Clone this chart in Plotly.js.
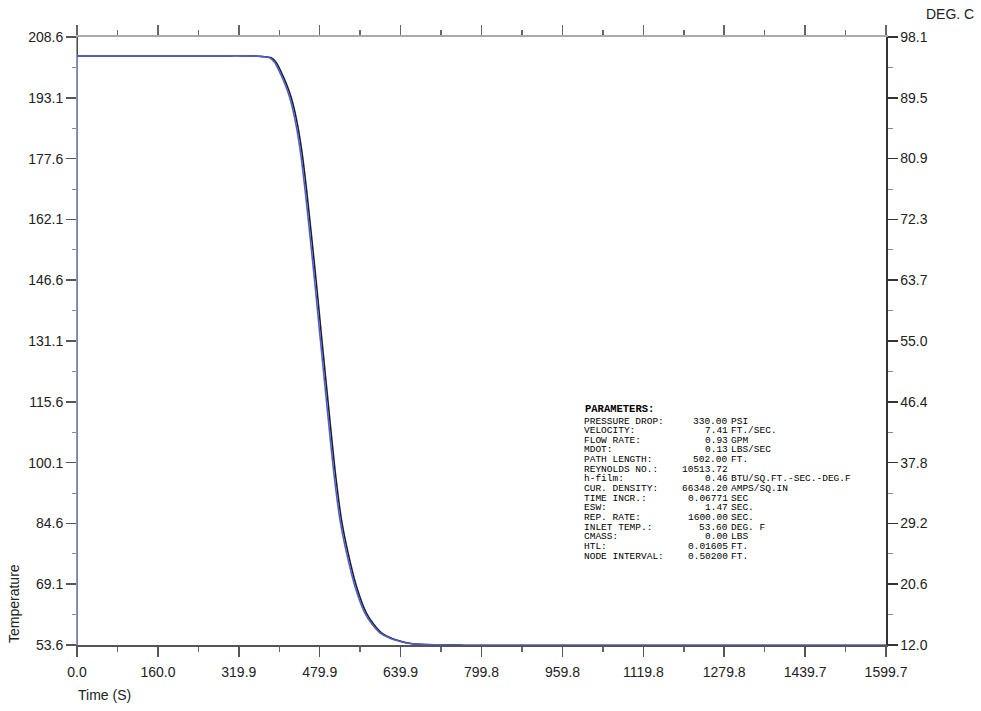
<!DOCTYPE html>
<html>
<head>
<meta charset="utf-8">
<script src="https://cdn.plot.ly/plotly-3.0.1.min.js"></script>
<style>html,body{margin:0;padding:0;background:#fff;}#chart{width:981px;height:711px;}</style>
</head>
<body>
<div id="chart"></div>
<script>
// ---- data ----
const timeStart = [0, 0];
const tempStartBlue = [53.6, 203.8];
const tempStartBlack = [208.6, 203.8];
const timeBlue = [0, 100, 200, 300, 330, 350, 365, 381, 391, 401, 411, 421, 431, 441, 451, 461, 471, 480, 487, 497, 507, 520, 533, 550, 569, 584, 599, 619, 639, 658, 678, 720, 760, 900, 1100, 1300, 1599.7];
const tempBlue = [203.8, 203.8, 203.8, 203.8, 203.8, 203.75, 203.6, 203.3, 202.1, 199.6, 196.7, 193.0, 187.6, 180.0, 169.6, 157.5, 145.0, 133.0, 123.9, 111.0, 98.4, 85.5, 77.1, 68.4, 61.8, 58.8, 56.7, 55.3, 54.5, 54.0, 53.8, 53.65, 53.6, 53.6, 53.6, 53.6, 53.6];
const timeBlack = [0, 100, 200, 300, 332, 352, 368, 384, 394, 404, 414, 424, 434, 444, 454, 464, 474, 483, 490, 500, 510, 523, 536, 553, 572, 587, 602, 622, 642, 661, 681, 722, 762];
const tempBlack = [203.8, 203.8, 203.8, 203.8, 203.8, 203.75, 203.6, 203.3, 202.1, 199.6, 196.7, 193.0, 187.6, 180.0, 169.6, 157.5, 145.0, 133.0, 123.9, 111.0, 98.4, 85.5, 77.1, 68.4, 61.8, 58.8, 56.7, 55.3, 54.5, 54.0, 53.8, 53.65, 53.6];

const xTickVals = [0, 159.97, 319.94, 479.91, 639.88, 799.85, 959.82, 1119.79, 1279.76, 1439.73, 1599.7];
const xTickText = ["0.0", "160.0", "319.9", "479.9", "639.9", "799.8", "959.8", "1119.8", "1279.8", "1439.7", "1599.7"];
const yTickVals = [53.6, 69.1, 84.6, 100.1, 115.6, 131.1, 146.6, 162.1, 177.6, 193.1, 208.6];
const yTickText = ["53.6", "69.1", "84.6", "100.1", "115.6", "131.1", "146.6", "162.1", "177.6", "193.1", "208.6"];
const cTickVals = [12.0, 20.61, 29.22, 37.83, 46.44, 55.06, 63.67, 72.28, 80.89, 89.5, 98.11];
const cTickText = ["12.0", "20.6", "29.2", "37.8", "46.4", "55.0", "63.7", "72.3", "80.9", "89.5", "98.1"];

const paramLabels = ["PRESSURE DROP:", "VELOCITY:", "FLOW RATE:", "MDOT:", "PATH LENGTH:", "REYNOLDS NO.:", "h-film:", "CUR. DENSITY:", "TIME INCR.:", "ESW:", "REP. RATE:", "INLET TEMP.:", "CMASS:", "HTL:", "NODE INTERVAL:"];
const paramValues = ["330.00", "7.41", "0.93", "0.13", "502.00", "10513.72", "0.46", "66348.20", "0.06771", "1.47", "1600.00", "53.60", "0.00", "0.01605", "0.50200"];
const paramUnits = ["PSI", "FT./SEC.", "GPM", "LBS/SEC", "FT.", "", "BTU/SQ.FT.-SEC.-DEG.F", "AMPS/SQ.IN", "SEC", "SEC.", "SEC.", "DEG. F", "LBS", "FT.", "FT."];

// ---- layout helpers (pixel -> paper) ----
const L = 77, R = 886, T = 37, B = 645;
const px = v => (v - L) / (R - L);
const py = v => (B - v) / (B - T);

const monoFont = {family: "Liberation Mono, DejaVu Sans Mono, monospace", size: 9.5, color: "#000"};
const sansFont = {family: "Liberation Sans, Arial, sans-serif", size: 14, color: "#222"};

const annotations = [];
annotations.push({xref: "paper", yref: "paper", x: px(583), y: py(409), xanchor: "left", yanchor: "middle",
  text: "<b>PARAMETERS:</b>", showarrow: false, font: {family: monoFont.family, size: 10.5, color: "#000"}});
for (let i = 0; i < paramLabels.length; i++) {
  const yy = py(421 + i * 9.65);
  annotations.push({xref: "paper", yref: "paper", x: px(583), y: yy, xanchor: "left", yanchor: "middle", text: paramLabels[i], showarrow: false, font: monoFont, borderpad: 0});
  annotations.push({xref: "paper", yref: "paper", x: px(729), y: yy, xanchor: "right", yanchor: "middle", text: paramValues[i], showarrow: false, font: monoFont, borderpad: 0});
  if (paramUnits[i]) annotations.push({xref: "paper", yref: "paper", x: px(730), y: yy, xanchor: "left", yanchor: "middle", text: paramUnits[i], showarrow: false, font: monoFont, borderpad: 0});
}
annotations.push({xref: "paper", yref: "paper", x: px(14), y: py(604), xanchor: "center", yanchor: "middle", textangle: -90, text: "Temperature", showarrow: false, font: sansFont});
annotations.push({xref: "paper", yref: "paper", x: px(76), y: py(695), xanchor: "left", yanchor: "middle", text: "Time (S)", showarrow: false, font: sansFont});
annotations.push({xref: "paper", yref: "paper", x: px(950), y: py(14), xanchor: "center", yanchor: "middle", text: "DEG. C", showarrow: false, font: sansFont});

const lineBlack = {color: "#1e1e2a", width: 1.6, shape: "spline", smoothing: 0.6};
const lineBlue = {color: "#4d5fcc", width: 1.6, shape: "spline", smoothing: 0.6};
const traces = [
  {x: timeStart, y: tempStartBlack, type: "scatter", mode: "lines", line: {color: "#1e1e2a", width: 1.6}, hoverinfo: "skip"},
  {x: timeBlack, y: tempBlack, type: "scatter", mode: "lines", line: lineBlack, hoverinfo: "skip"},
  {x: timeStart, y: tempStartBlue, type: "scatter", mode: "lines", line: {color: "#4d5fcc", width: 1.6}, hoverinfo: "skip"},
  {x: timeBlue, y: tempBlue, type: "scatter", mode: "lines", line: lineBlue, hoverinfo: "skip"},
  {x: [], y: [], type: "scatter", mode: "lines", hoverinfo: "skip", xaxis: "x2", yaxis: "y2", showlegend: false}
];

const layout = {
  width: 981, height: 711,
  margin: {l: L, r: 981 - R, t: T, b: 711 - B, pad: 0},
  paper_bgcolor: "#fff", plot_bgcolor: "#fff",
  showlegend: false,
  font: sansFont,
  xaxis: {
    range: [0, 1599.7], showgrid: false, zeroline: false,
    showline: true, linecolor: "#555", linewidth: 1.5,
    tickmode: "array", tickvals: xTickVals, ticktext: xTickText,
    ticks: "outside", ticklen: 10, tickcolor: "#555", tickwidth: 1.5,
    ticklabelstandoff: 4,
    minor: {ticks: "outside", ticklen: 5, tickcolor: "#666", tickwidth: 1.5, tick0: 0, dtick: 79.985},
    tickfont: sansFont
  },
  xaxis2: {
    overlaying: "x", side: "top", anchor: "y2", range: [0, 1599.7], showgrid: false, zeroline: false,
    showline: true, linecolor: "#aaa", linewidth: 2, showticklabels: false,
    tickmode: "array", tickvals: xTickVals,
    ticks: "outside", ticklen: 10, tickcolor: "#666", tickwidth: 1.5,
    minor: {ticks: "outside", ticklen: 5, tickcolor: "#666", tickwidth: 1.5, tick0: 0, dtick: 79.985}
  },
  yaxis: {
    range: [53.6, 208.6], showgrid: false, zeroline: false,
    showline: true, linecolor: "#999", linewidth: 1,
    tickmode: "array", tickvals: yTickVals, ticktext: yTickText,
    ticks: "outside", ticklen: 10, tickcolor: "#555", tickwidth: 1.5,
    minor: {ticks: "outside", ticklen: 4, tickcolor: "#888", tickwidth: 1, tick0: 53.6, dtick: 7.75},
    tickfont: sansFont
  },
  yaxis2: {
    overlaying: "y", side: "right", anchor: "x2", range: [12.0, 98.11], showgrid: false, zeroline: false,
    showline: true, linecolor: "#333", linewidth: 1.5,
    tickmode: "array", tickvals: cTickVals, ticktext: cTickText,
    ticks: "outside", ticklen: 10, tickcolor: "#333", tickwidth: 1.5,
    minor: {ticks: "outside", ticklen: 5, tickcolor: "#888", tickwidth: 1, tick0: 12.0, dtick: 4.305},
    tickfont: sansFont
  },
  annotations: annotations
};

Plotly.newPlot("chart", traces, layout, {staticPlot: true, displayModeBar: false});
</script>
</body>
</html>
